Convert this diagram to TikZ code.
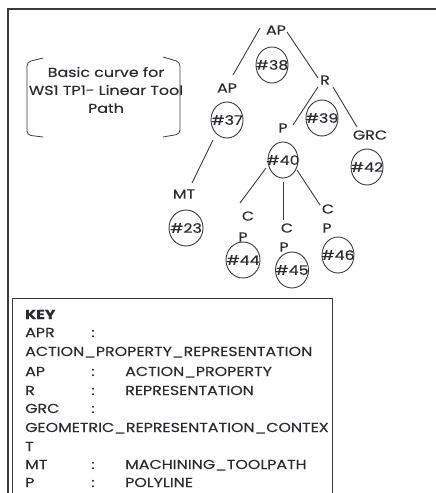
\documentclass[tikz,border=0pt]{standalone}
\usepackage{fontspec}
\setmainfont{Poppins}[FakeStretch=1.22, FakeBold=0.3]
\usetikzlibrary{calc,shapes.geometric}
\definecolor{ink}{HTML}{2B2B33}
\definecolor{linec}{HTML}{3A3A3A}
\begin{document}
\begin{tikzpicture}[x=1pt,y=-1pt,
  lbl/.style={font=\fontsize{13}{15}\selectfont, text=ink, inner sep=0pt},
  ring/.style={ellipse, draw=linec, line width=0.9pt, minimum width=32pt, minimum height=36pt, inner sep=0pt},
  conn/.style={draw=linec, line width=0.9pt},
  keyt/.style={font=\fontsize{13}{15}\selectfont, text=ink, inner sep=0pt, anchor=base west},
  keyc/.style={font=\fontsize{13}{15}\selectfont, text=ink, inner sep=0pt, anchor=base},
  frame/.style={draw=linec, line width=1.5pt}]
\useasboundingbox (0,0) rectangle (436,493);
% outer frame
\draw[frame] (8,494) -- (8,9) -- (437,9);
% key box
\draw[draw=linec, line width=1pt] (12,494) -- (12,298) -- (332,298) -- (332,494);
% note with brackets
\node[lbl, align=center, font=\fontsize{13}{18}\selectfont] (note) at (106,90) {Basic curve for\\WS1 TP1- Linear Tool\\Path};
\draw[conn, line width=0.8pt, rounded corners=4pt] ($(note)+(-63,-32)$) -- ($(note)+(-79,-28)$) -- ($(note)+(-79,45)$) -- ($(note)+(-63,47)$);
\draw[conn, line width=0.8pt, rounded corners=4pt] ($(note)+(57,-33)$) -- ($(note)+(74,-28)$) -- ($(note)+(74,44)$) -- ($(note)+(57,47)$);
% tree labels
\node[lbl] (apt) at (276,30) {AP};
\node[lbl] (apl) at (227,88) {AP};
\node[lbl] (r) at (325,80) {R};
\node[lbl] (p) at (283,128) {P};
\node[lbl] (grc) at (370,135) {GRC};
\node[lbl] (mt) at (184,194) {MT};
\node[lbl] (c1) at (248,216) {C};
\node[lbl] (p1) at (243,237) {P};
\node[lbl] (c2) at (287,228) {C};
\node[lbl] (p2) at (284,247) {P};
\node[lbl] (c3) at (328,209) {C};
\node[lbl] (p3) at (327,228) {P};
% rings
\node[ring, label={[lbl]center:\#38}] (h38) at (272,65) {};
\node[ring, label={[lbl]center:\#37}] (h37) at (227,120) {};
\node[ring, label={[lbl]center:\#39}] (h39) at (322,118) {};
\node[ring, minimum width=30pt, label={[lbl]center:\#40}] (h40) at (283,160) {};
\node[ring, label={[lbl]center:\#42}] (h42) at (367,167) {};
\node[ring, minimum width=34pt, label={[lbl]center:\#23}] (h23) at (186,228) {};
\node[ring, minimum width=34pt, label={[lbl]center:\#44}] (h44) at (243,260) {};
\node[ring, minimum width=33pt, label={[lbl]center:\#45}] (h45) at (292,270) {};
\node[ring, label={[lbl]center:\#46}] (h46) at (338,255) {};
% connectors
\draw[conn] ($(apt)+(-16,-2)$) -- ($(apl)+(6,-13)$);
\draw[conn] ($(apt)+(11,2)$) -- ($(r)+(-7,-2)$);
\draw[conn] ($(r)+(-7,7)$) -- ($(p)+(10,-3)$);
\draw[conn] ($(r)+(8,7)$) -- ($(grc)+(-13,-8)$);
\draw[conn] ($(h37)+(-14,20)$) -- ($(mt)+(8,-11)$);
\draw[conn] ($(h40)+(-17,8)$) -- ($(c1)+(-8,-13)$);
\draw[conn] ($(h40)+(0,22)$) -- ($(c2)+(-4,-8)$);
\draw[conn] ($(h40)+(14,10)$) -- ($(c3)+(-8,-4)$);
% key
\node[keyt, font=\fontsize{13}{15}\selectfont\bfseries] (k0) at (25,319) {KEY};
\node[keyt] (k1) at (25,337) {APR};
\node[keyc] (k1c) at (93,337) {:};
\node[keyt] (k2) at (25,356) {ACTION\_PROPERTY\_REPRESENTATION};
\node[keyt] (k3) at (25,376) {AP};
\node[keyc] (k3c) at (93,376) {:};
\node[keyt] (k3v) at (125,376) {ACTION\_PROPERTY};
\node[keyt] (k4) at (25,395) {R};
\node[keyc] (k4c) at (93,395) {:};
\node[keyt] (k4v) at (125,395) {REPRESENTATION};
\node[keyt] (k5) at (25,413) {GRC};
\node[keyc] (k5c) at (93,413) {:};
\node[keyt] (k6) at (25,432) {GEOMETRIC\_REPRESENTATION\_CONTEX};
\node[keyt] (k7) at (25,451) {T};
\node[keyt] (k8) at (25,469) {MT};
\node[keyc] (k8c) at (93,469) {:};
\node[keyt] (k8v) at (125,469) {MACHINING\_TOOLPATH};
\node[keyt] (k9) at (25,487) {P};
\node[keyc] (k9c) at (93,487) {:};
\node[keyt] (k9v) at (125,487) {POLYLINE};
\end{tikzpicture}
\end{document}
